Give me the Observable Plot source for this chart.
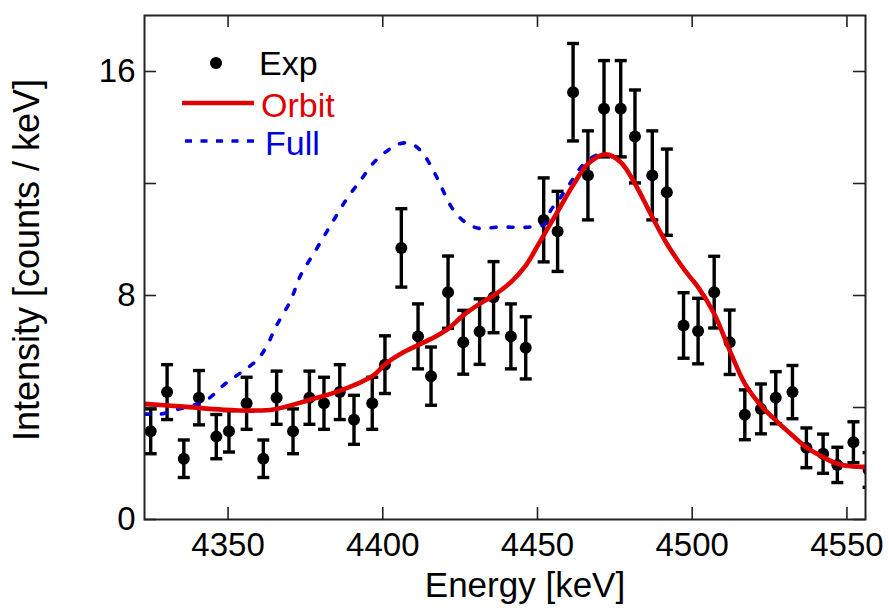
<!DOCTYPE html>
<html>
<head>
<meta charset="utf-8">
<script src="https://cdn.jsdelivr.net/npm/d3@7"></script>
<script src="https://cdn.jsdelivr.net/npm/@observablehq/plot@0.6"></script>
<style>
  html, body { margin: 0; padding: 0; background: white; }
  #chart { width: 889px; height: 608px; }
</style>
</head>
<body>
<div id="chart"></div>
<script>
// ---- data ----
const energy = [4325, 4330.3, 4335.7, 4340.6, 4346.2, 4350.3, 4356, 4361.4, 4365.7, 4371,
  4376.3, 4381, 4386.1, 4390.7, 4396.6, 4400.7, 4406, 4411.4, 4415.6, 4421.1,
  4426, 4431.3, 4435.8, 4441.4, 4446.2, 4452, 4456.5, 4461.5, 4466.3, 4471.5,
  4476.9, 4481.5, 4487.1, 4491.8, 4497.2, 4501.9, 4507.1, 4512.1, 4517, 4522.2,
  4527, 4532.4, 4536.9, 4542.3, 4546.9, 4552.1, 4557];
const counts = [3.15, 4.55, 2.17, 4.35, 2.96, 3.15, 4.15, 2.17, 4.35, 3.15,
  4.35, 4.15, 4.55, 3.56, 4.15, 5.53, 9.70, 6.54, 5.12, 8.12,
  6.33, 6.71, 7.94, 6.54, 6.13, 10.70, 10.29, 15.26, 12.29, 14.67,
  14.67, 13.68, 12.29, 11.69, 6.93, 6.73, 8.12, 6.33, 3.74, 3.95,
  4.35, 4.55, 2.56, 2.35, 1.95, 2.76, 1.77];
const errors = [0.80, 0.98, 0.67, 0.97, 0.79, 0.74, 0.93, 0.67, 0.95, 0.80,
  0.95, 0.93, 0.98, 0.875, 0.93, 1.03, 1.40, 1.16, 1.04, 1.29,
  1.14, 1.17, 1.27, 1.16, 1.11, 1.50, 1.43, 1.74, 1.59, 1.72,
  1.72, 1.66, 1.59, 1.54, 1.17, 1.17, 1.28, 1.15, 0.89, 0.89,
  0.93, 0.95, 0.71, 0.70, 0.63, 0.73, 0.62];

const orbitE = [4323, 4335.6, 4348.5, 4358.2, 4364.7, 4375.7, 4386.4, 4397, 4400.7, 4406.8,
  4415.6, 4421.1, 4426, 4431.3, 4435.8, 4441.4, 4446.2, 4451, 4456.4, 4461.8,
  4466.3, 4472, 4476.9, 4481.5, 4487.1, 4491.8, 4496.3, 4499, 4501.9, 4507.1,
  4512.1, 4517, 4522.2, 4527, 4532.4, 4536.9, 4542.3, 4546.9, 4552.1, 4556];
const orbitV = [4.13, 4.03, 3.92, 3.89, 3.93, 4.25, 4.61, 5.15, 5.54, 5.98,
  6.45, 6.81, 7.29, 7.70, 8.0, 8.48, 9.07, 9.96, 10.98, 11.99,
  12.70, 13.04, 12.76, 11.99, 10.8, 9.85, 9.1, 8.7, 8.30, 7.35,
  6.04, 4.85, 4.07, 3.54, 3.0, 2.58, 2.23, 1.99, 1.89, 1.88];

const fullE = [4323, 4328.4, 4333.2, 4338.6, 4343.6, 4349.1, 4354.2, 4359.4, 4362.6, 4365.3,
  4370.2, 4373.4, 4378.3, 4383.1, 4388, 4392.8, 4397.7, 4402.5, 4405.8, 4409,
  4412.2, 4415.5, 4418.7, 4421.9, 4425.2, 4428.4, 4431.6, 4436.5, 4441.9, 4446.8,
  4452.2, 4454.3, 4457.7, 4461.3, 4464.8, 4469.6, 4472, 4476.9, 4481.5, 4487.1,
  4491.8, 4496.3, 4499, 4501.9, 4507.1, 4512.1, 4517, 4522.2, 4527, 4532.4,
  4536.9, 4542.3, 4546.9, 4552.1, 4556];
const fullV = [3.77, 3.77, 3.92, 4.07, 4.31, 4.85, 5.25, 5.7, 6.21, 6.85,
  7.82, 8.71, 9.61, 10.5, 11.39, 12.11, 12.82, 13.25, 13.43, 13.43,
  13.18, 12.64, 11.93, 11.21, 10.75, 10.5, 10.39, 10.44, 10.44, 10.44,
  10.54, 11.04, 11.54, 12.13, 12.68, 13.04, 13.04, 12.76, 11.99, 10.8,
  9.85, 9.1, 8.7, 8.30, 7.35, 6.04, 4.85, 4.07, 3.54, 3.0,
  2.58, 2.23, 1.99, 1.89, 1.88];

const xTickValues = [4350, 4400, 4450, 4500, 4550];
const yTickValues = [0, 4, 8, 12, 16];
const yTickLabels = [0, 8, 16];

const xLabel = "Energy [keV]";
const yLabel = "Intensity [counts / keV]";
const legendLabels = ["Exp", "Orbit", "Full"];

// ---- build tables ----
const exp = energy.map((e, i) => ({e, v: counts[i], lo: counts[i] - errors[i], hi: counts[i] + errors[i]}));
const caps = exp.flatMap(d => [{e: d.e, v: d.lo}, {e: d.e, v: d.hi}]);
const orbit = orbitE.map((e, i) => ({e, v: orbitV[i]}));
const full = fullE.map((e, i) => ({e, v: fullV[i]}));

const W = 889, H = 608, mL = 144, mR = 24, mT = 15, mB = 89;
const plotH = H - mT - mB, plotW = W - mL - mR;
const tickLen = 12;
const axisColor = "#222";
const red = "#e00000", blue = "#0000dd";
const font = "'Liberation Sans', Arial, Helvetica, sans-serif";

const capSymbol = {
  draw(ctx, size) {
    const w = Math.sqrt(size / Math.PI);
    ctx.moveTo(-w, 0);
    ctx.lineTo(w, 0);
  }
};

const svg = Plot.plot({
  width: W, height: H,
  marginLeft: mL, marginRight: mR, marginTop: mT, marginBottom: mB,
  style: {fontFamily: font, background: "white", color: "black"},
  x: {domain: [4323, 4556]},
  y: {domain: [0, 18]},
  marks: [
    Plot.ruleX(exp, {x: "e", y1: "lo", y2: "hi", stroke: "black", strokeWidth: 3.4, clip: true}),
    Plot.dot(caps, {x: "e", y: "v", symbol: capSymbol, r: 6, stroke: "black", strokeWidth: 3.4, fill: "none", clip: true}),
    Plot.dot(exp, {x: "e", y: "v", r: 6, fill: "black", stroke: "none", clip: true}),
    Plot.line(full, {x: "e", y: "v", stroke: blue, strokeWidth: 3.6, strokeDasharray: "5,12", curve: "catmull-rom", clip: true}),
    Plot.line(orbit, {x: "e", y: "v", stroke: red, strokeWidth: 4.6, curve: "catmull-rom", clip: true}),
    // inward ticks
    Plot.tickX(xTickValues, {x: d => d, insetTop: plotH - tickLen, stroke: axisColor, strokeWidth: 1.6}),
    Plot.tickX(xTickValues, {x: d => d, insetBottom: plotH - tickLen, stroke: axisColor, strokeWidth: 1.6}),
    Plot.tickY(yTickValues, {y: d => d, insetRight: plotW - tickLen, stroke: axisColor, strokeWidth: 1.6}),
    Plot.tickY(yTickValues, {y: d => d, insetLeft: plotW - tickLen, stroke: axisColor, strokeWidth: 1.6}),
    Plot.axisX(xTickValues, {anchor: "bottom", tickSize: 0, tickPadding: 13, fontSize: 33, label: null, tickFormat: d => String(d)}),
    Plot.axisY(yTickLabels, {anchor: "left", tickSize: 0, tickPadding: 9, fontSize: 33, label: null, tickFormat: d => String(d)}),
    Plot.frame({stroke: axisColor, strokeWidth: 2})
  ]
});

document.getElementById("chart").appendChild(svg);

// ---- titles and legend ----
const s = d3.select(svg);
s.append("text")
  .attr("x", 525).attr("y", 597)
  .attr("text-anchor", "middle")
  .style("font-family", font).style("font-size", "35px").attr("fill", "black")
  .text(xLabel);
s.append("text")
  .attr("transform", "translate(39,260) rotate(-90)")
  .attr("text-anchor", "middle")
  .style("font-family", font).style("font-size", "36px").attr("fill", "black")
  .text(yLabel);

const lg = s.append("g").attr("text-anchor", "start")
  .style("font-family", font).style("font-size", "34px");
lg.append("circle").attr("cx", 216).attr("cy", 63).attr("r", 6).attr("fill", "black");
lg.append("text").attr("x", 259).attr("y", 75).attr("fill", "black").text(legendLabels[0]);
lg.append("line").attr("x1", 182).attr("x2", 254).attr("y1", 103).attr("y2", 103)
  .attr("stroke", red).attr("stroke-width", 4.6);
lg.append("text").attr("x", 261).attr("y", 117).attr("fill", red).text(legendLabels[1]);
lg.append("line").attr("x1", 185).attr("x2", 257).attr("y1", 141).attr("y2", 141)
  .attr("stroke", blue).attr("stroke-width", 3.6).attr("stroke-dasharray", "7,8.5");
lg.append("text").attr("x", 265).attr("y", 155).attr("fill", blue).text(legendLabels[2]);
</script>
</body>
</html>
